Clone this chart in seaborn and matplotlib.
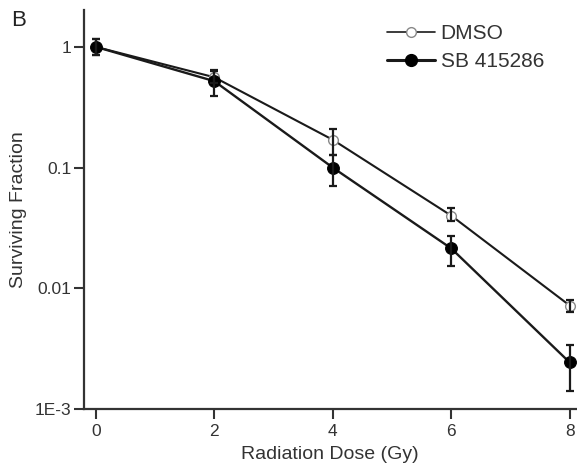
import matplotlib
matplotlib.use("Agg")
import matplotlib.pyplot as plt
import seaborn as sns
import pandas as pd
import numpy as np
from matplotlib.lines import Line2D

dose = [0, 2, 4, 6, 8]
dmso = [1.0, 0.56, 0.17, 0.040, 0.0072]
dmso_lo = [0.85, 0.50, 0.126, 0.036, 0.0064]
dmso_hi = [1.16, 0.64, 0.21, 0.046, 0.0080]
sb = [1.0, 0.52, 0.10, 0.0214, 0.00243]
sb_lo = [0.85, 0.39, 0.070, 0.0153, 0.0014]
sb_hi = [1.16, 0.63, 0.126, 0.027, 0.0034]
series = ["DMSO", "SB 415286"]

sns.set_theme(style="ticks")
plt.rcParams['font.family'] = ['Liberation Sans', 'DejaVu Sans']

df = pd.DataFrame({
    "dose": dose * 2,
    "sf": dmso + sb,
    "group": [series[0]] * 5 + [series[1]] * 5,
})

fig = plt.figure(figsize=(5.77, 4.66), dpi=100)
ax = fig.add_axes([0.1456, 0.1223, 0.852, 0.8562])

ink = "#1a1a1a"
sns.lineplot(data=df, x="dose", y="sf", hue="group", style="group",
             palette={series[0]: ink, series[1]: ink},
             markers={series[0]: "o", series[1]: "o"}, dashes=False,
             ax=ax, legend=False, linewidth=1.5, zorder=3)

sl = ax.get_lines()[-2:]
sl[0].set_markerfacecolor("white")
sl[0].set_markeredgecolor("#888888")
sl[0].set_markersize(7)
sl[0].set_markeredgewidth(1.0)
sl[1].set_markerfacecolor("black")
sl[1].set_markeredgecolor("black")
sl[1].set_markersize(8.5)
sl[1].set_linewidth(1.7)

for name, vals, lo, hi in [(series[0], dmso, dmso_lo, dmso_hi), (series[1], sb, sb_lo, sb_hi)]:
    v = np.array(vals)
    ax.errorbar(dose, v, yerr=[v - np.array(lo), np.array(hi) - v], fmt="none",
                ecolor=ink, elinewidth=1.6, capsize=3.2, capthick=1.6, zorder=4)

h1 = Line2D([], [], color=ink, lw=1.2, marker="o", mfc="white", mec="#888888", ms=7)
h2 = Line2D([], [], color=ink, lw=2.2, marker="o", mfc="black", mec="black", ms=8.5)
ax.legend([h1, h2], series, loc="upper left", bbox_to_anchor=(0.579, 1.012),
          frameon=False, fontsize=15, handlelength=2.3, handletextpad=0.25,
          labelspacing=0.45, labelcolor="#333333")

ax.set_yscale("log")
ax.set_ylim(1e-3, 2.02)
ax.set_xlim(-0.2, 8.1)
ax.set_xticks([0, 2, 4, 6, 8])
ax.set_yticks([1e-3, 1e-2, 1e-1, 1])
ax.set_yticklabels(["1E-3", "0.01", "0.1", "1"])
ax.yaxis.set_minor_locator(matplotlib.ticker.NullLocator())
ax.tick_params(axis="both", labelsize=12.5, colors="#333333", length=7, width=1.5, direction="out")
ax.tick_params(axis="y", pad=2)
for s in ["top", "right"]:
    ax.spines[s].set_visible(False)
for s in ["left", "bottom"]:
    ax.spines[s].set_linewidth(1.6)
    ax.spines[s].set_color("#333333")
ax.set_xlabel("Radiation Dose (Gy)", fontsize=14, color="#333333", labelpad=5)
ax.set_ylabel("Surviving Fraction", fontsize=14, color="#333333", labelpad=6)

fig.text(0.02, 0.945, "B", fontsize=16, color="#222222")

fig.savefig("out.png", dpi=100)
